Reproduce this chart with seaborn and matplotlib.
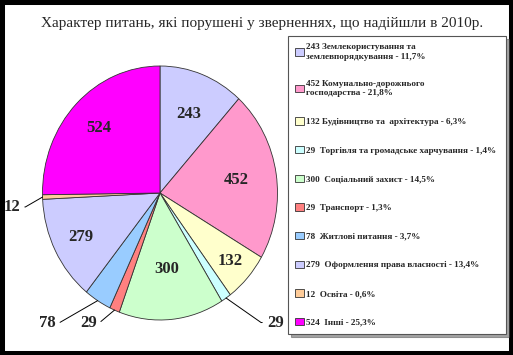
import matplotlib
matplotlib.use("Agg")
import numpy as np
import matplotlib.pyplot as plt
import seaborn as sns

# data
counts = [243, 452, 132, 29, 300, 29, 78, 279, 12, 524]
legend_labels = [
    "243 Землекористування та\nземлевпорядкування - 11,7%",
    "452 Комунально-дорожнього\nгосподарства - 21,8%",
    "132 Будівництво та  архітектура - 6,3%",
    "29  Торгівля та громадське харчування - 1,4%",
    "300  Соціальний захист - 14,5%",
    "29  Транспорт - 1,3%",
    "78  Житлові питання - 3,7%",
    "279  Оформлення права власності - 13,4%",
    "12  Освіта - 0,6%",
    "524  Інші - 25,3%",
]
colors = ["#CCCCFF", "#FF99CC", "#FFFFCC", "#CCFFFF", "#CCFFCC",
          "#FF8080", "#99CCFF", "#CCCCFF", "#FFCC99", "#FF00FF"]
title = "Характер питань, які порушені у зверненнях, що надійшли в 2010р."

sns.set_theme(style="white")
plt.rcParams["font.family"] = ["Liberation Serif", "DejaVu Serif"]

fig = plt.figure(figsize=(5.13, 3.55), dpi=100)
fig.patch.set_facecolor("white")

# black frame round the whole picture
fig.patches.append(plt.Rectangle((0, 0), 1, 1, transform=fig.transFigure,
                                 fill=False, edgecolor="black", linewidth=6.5))

fig.text(0.51, 0.935, title, ha="center", va="center", fontsize=11)

# pie axes: ellipse like the original (rx 117 px, ry 127 px)
ax = fig.add_axes([42.5 / 513, (355 - 320) / 355, 235 / 513, 254 / 355])
wedges, _ = ax.pie(counts, colors=colors, startangle=90, counterclock=False,
                   radius=1,
                   wedgeprops=dict(edgecolor="#333333", linewidth=0.6))
ax.set_aspect("auto")
ax.set_xlim(-1, 1)
ax.set_ylim(-1, 1)

# labels inside for the big slices
inside = {0: 0.67, 1: 0.66, 2: 0.80, 4: 0.60, 7: 0.76, 9: 0.73}
for i, r in inside.items():
    w = wedges[i]
    ang = np.deg2rad((w.theta1 + w.theta2) / 2)
    ax.text(r * np.cos(ang), r * np.sin(ang), str(counts[i]),
            ha="center", va="center", fontsize=12, fontweight="bold")

# small slices: label outside with a leader line
outside = {8: (-1.19, -0.11, "right", 30), 6: (-0.89, -1.02, "right", 30),
           5: (-0.54, -1.02, "right", 40), 3: (0.91, -1.02, "left", 145)}
for i, (tx, ty, ha, angb) in outside.items():
    w = wedges[i]
    ang = np.deg2rad((w.theta1 + w.theta2) / 2)
    ax.annotate(str(counts[i]), xy=(np.cos(ang), np.sin(ang)),
                xytext=(tx, ty), ha=ha, va="center",
                fontsize=12, fontweight="bold", annotation_clip=False,
                arrowprops=dict(arrowstyle="-", color="black", lw=0.7,
                                shrinkA=1, shrinkB=0,
                                connectionstyle=f"angle,angleA=0,angleB={angb},rad=0"))

leg = fig.legend(wedges, legend_labels, loc="upper left",
                 bbox_to_anchor=(288 / 513, 1 - 36 / 355, 218 / 513, 0),
                 mode="expand", fontsize=6.6, frameon=True, fancybox=False,
                 shadow=True, labelspacing=2.15, handlelength=0.9,
                 handleheight=0.9, handletextpad=0.3, borderpad=0.8,
                 borderaxespad=0)
leg.get_frame().set_edgecolor("#555555")
leg.get_frame().set_linewidth(0.8)
for t in leg.get_texts():
    t.set_fontweight("bold")
for h in leg.legend_handles:
    h.set_edgecolor("#333333")
    h.set_linewidth(0.6)

fig.savefig("out.png", dpi=100)
